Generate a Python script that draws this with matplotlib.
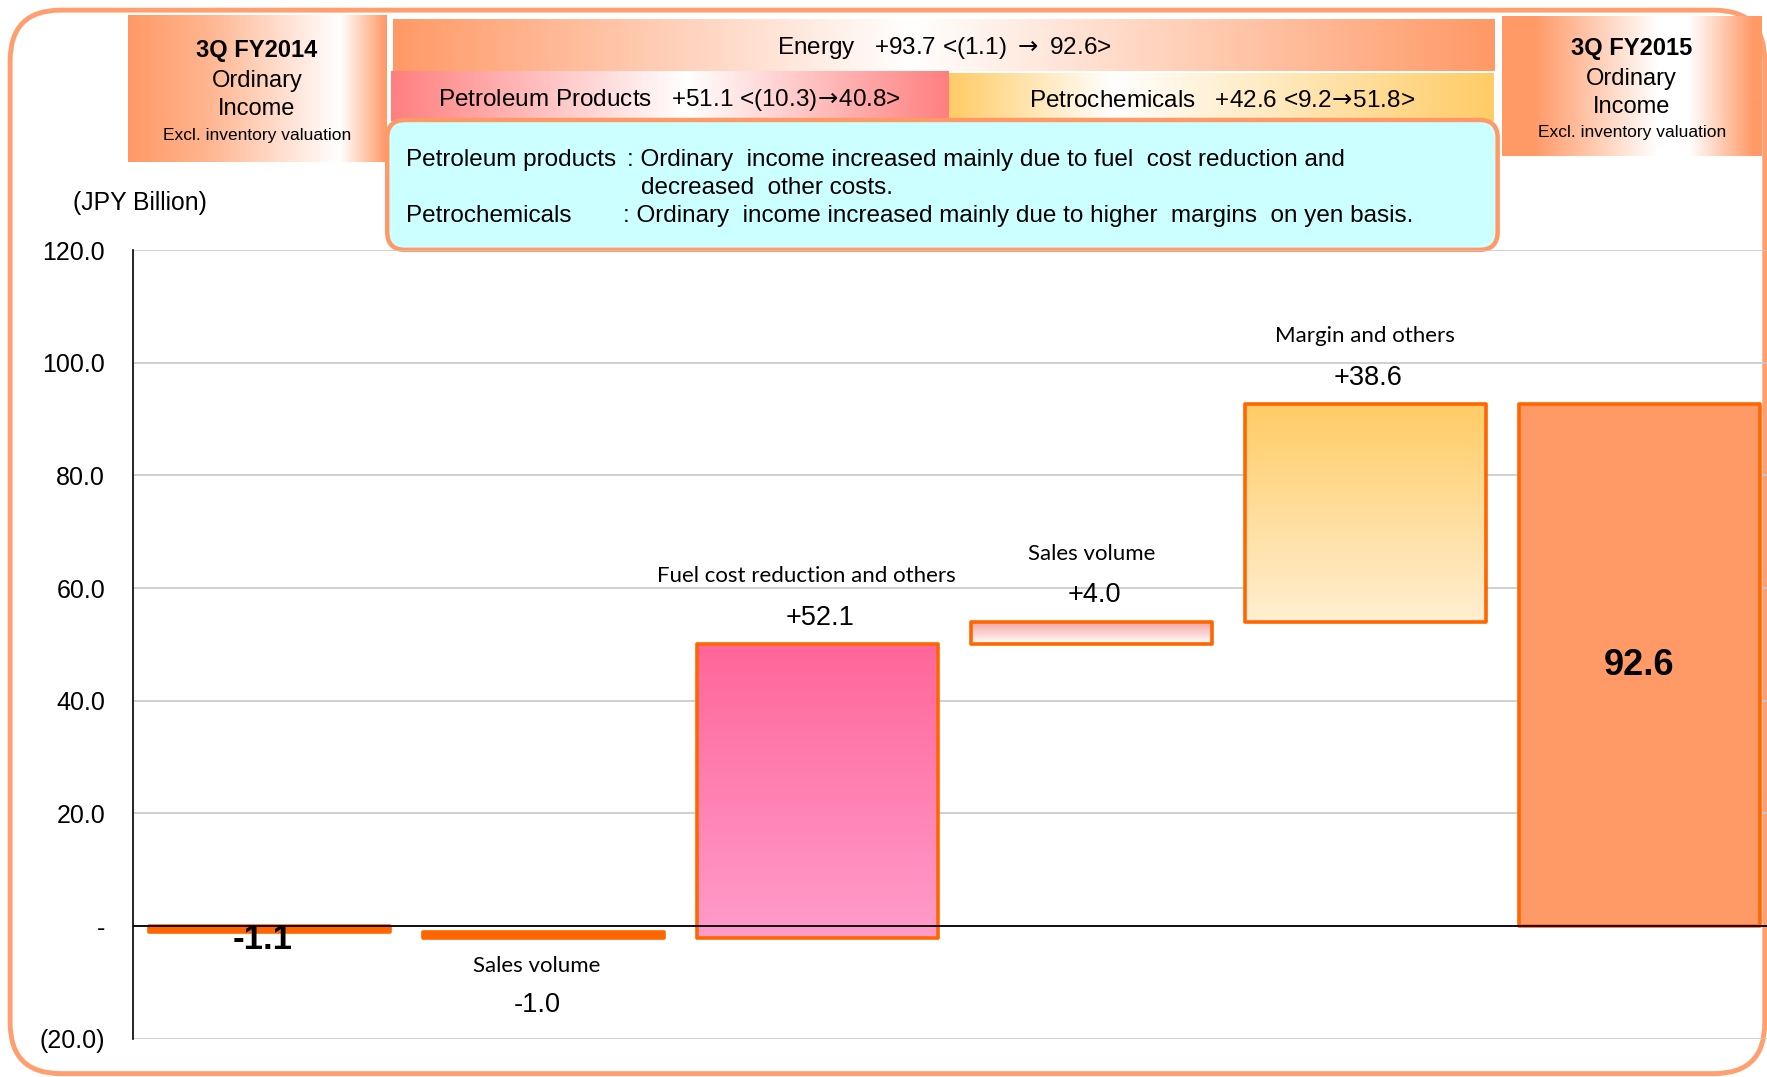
import numpy as np
import matplotlib
matplotlib.use("Agg")
import matplotlib.pyplot as plt
from matplotlib.patches import FancyBboxPatch, Rectangle
from matplotlib.colors import to_rgb

plt.rcParams['font.family'] = ['Liberation Sans', 'DejaVu Sans']

# ---------------- data ----------------
categories = ["3Q FY2014", "Sales volume", "Fuel cost reduction and others",
              "Sales volume", "Margin and others", "3Q FY2015"]
values = [-1.1, -1.0, 52.1, 4.0, 38.6, 92.6]
kinds = ["total", "delta", "delta", "delta", "delta", "total"]
yticks = [-20, 0, 20, 40, 60, 80, 100, 120]
ytick_labels = ["(20.0)", "-", "20.0", "40.0", "60.0", "80.0", "100.0", "120.0"]

header_left = ["3Q FY2014", "Ordinary", "Income", "Excl. inventory valuation"]
header_right = ["3Q FY2015", "Ordinary", "Income", "Excl. inventory valuation"]
energy_text = r"Energy   +93.7 <(1.1) $\rightarrow$ 92.6>"
petro_text = r"Petroleum Products   +51.1 <(10.3)$\!\rightarrow\!$40.8>"
chem_text = r"Petrochemicals   +42.6 <9.2$\!\rightarrow\!$51.8>"
note_heads = ["Petroleum products", "", "Petrochemicals"]
note_bodies = [": Ordinary  income increased mainly due to fuel  cost reduction and",
               "decreased  other costs.",
               ": Ordinary  income increased mainly due to higher  margins  on yen basis."]
unit_label = "(JPY Billion)"

# ---------------- styles ----------------
ORANGE = "#FF6600"
bar_fills = [("solid", "#FF6600", None),
             ("solid", "#FF6600", None),
             ("grad", "#FF6699", "#FF9CCB"),
             ("grad", "#F4A09E", "#FFFFFF"),
             ("grad", "#FFCC66", "#FFEFD2"),
             ("solid", "#FF9966", None)]

fig = plt.figure(figsize=(17.67, 10.77), dpi=100)

# background / overlay axes in reference pixel units (1568 x 956)
bg = fig.add_axes([0, 0, 1, 1], zorder=0)
bg.set_xlim(0, 1568)
bg.set_ylim(956, 0)
bg.axis('off')


def hgrad(x0, x1, y0, y1, stops, cols):
    n = 256
    t = np.linspace(0, 1, n)
    rgb = np.array([to_rgb(c) for c in cols])
    arr = np.stack([np.interp(t, stops, rgb[:, k]) for k in range(3)], axis=-1)
    bg.imshow(arr[np.newaxis, :, :], extent=(x0, x1, y1, y0), aspect='auto',
              interpolation='bilinear', zorder=1)


OR = "#FF9966"
W = "#FFFFFF"
# outer rounded frame
bg.add_patch(FancyBboxPatch((9, 9), 1557, 944, boxstyle="round,pad=0,rounding_size=45",
                            ec="#FF9E6E", fc="none", lw=3.5, zorder=0.5))
# header boxes
hgrad(113.5, 343, 13.3, 143.5, [0, 0.3, 0.82, 1.0], [OR, "#FFB48E", W, OR])
hgrad(1332.5, 1563, 14.8, 138.4, [0, 0.12, 0.6, 0.72, 0.97, 1.0], [OR, OR, W, W, OR, OR])
hgrad(348.6, 1326, 16.9, 62.7, [0, 0.47, 1.0], [OR, W, OR])
hgrad(346.7, 841, 63, 107, [0, 0.53, 1.0], ["#FF7F7F", W, "#FF7F7F"])
hgrad(842.5, 1326, 64.5, 107, [0, 0.3, 1.0], ["#FFCC66", W, "#FFCC66"])

# note box
bg.add_patch(FancyBboxPatch((343.6, 106.5), 985.4, 115.3,
                            boxstyle="round,pad=0,rounding_size=16",
                            ec="#FF9966", fc="#CCFFFF", lw=3.2, zorder=2))

for i, (t, y) in enumerate(zip(header_left, [45, 72, 97, 120])):
    bg.text(228, y, t, ha='center', va='center', zorder=3,
            fontsize=17 if i < 3 else 12.5, fontweight='bold' if i == 0 else 'normal')
for i, (t, y) in enumerate(zip(header_right, [43, 70, 95, 118])):
    bg.text(1448, y, t, ha='center', va='center', zorder=3,
            fontsize=17 if i < 3 else 12.5, fontweight='bold' if i == 0 else 'normal')

bg.text(838, 43, energy_text, ha='center', va='center', fontsize=17.5, zorder=3)
bg.text(594, 89, petro_text, ha='center', va='center', fontsize=17.5, zorder=3)
bg.text(1084, 90, chem_text, ha='center', va='center', fontsize=17.5, zorder=3)

note_y = [142, 167, 192]
note_x = [556, 569, 553]
for h, b, y, x in zip(note_heads, note_bodies, note_y, note_x):
    if h:
        bg.text(360, y, h, ha='left', va='center', fontsize=17.5, zorder=3)
    bg.text(x, y, b, ha='left', va='center', fontsize=17.5, zorder=3)

bg.text(124, 180, unit_label, ha='center', va='center', fontsize=17.8)

# ---------------- main chart ----------------
ax = fig.add_axes([118 / 1568, 1 - 922 / 956, (1576 - 118) / 1568, 700 / 956], zorder=1)
ax.patch.set_alpha(0)

width = 0.88
running = 0.0
bars = []
for i, (v, k) in enumerate(zip(values, kinds)):
    if k == "total":
        lo, hi = min(0, v), max(0, v)
        running = v
    else:
        start = running
        running = running + v
        lo, hi = min(start, running), max(start, running)
    bars.append((lo, hi))

for i, ((lo, hi), (mode, c1, c2)) in enumerate(zip(bars, bar_fills)):
    x0 = i - width / 2
    if mode == "grad":
        n = 256
        t = np.linspace(0, 1, n)
        a = np.array(to_rgb(c2))
        b = np.array(to_rgb(c1))
        arr = a[None, :] * (1 - t[:, None]) + b[None, :] * t[:, None]
        ax.imshow(arr[:, None, :], extent=(x0, x0 + width, lo, hi), origin='lower',
                  aspect='auto', interpolation='bilinear', zorder=2)
        ax.add_patch(Rectangle((x0, lo), width, hi - lo, fill=False, ec=ORANGE,
                               lw=2.6, zorder=3, joinstyle='round'))
    else:
        ax.add_patch(Rectangle((x0, lo), width, hi - lo, fc=c1, ec=ORANGE,
                               lw=2.6, zorder=3, joinstyle='round'))

ax.axhline(0, color='black', lw=1.3, zorder=4)

cat_font = ['Lato', 'DejaVu Sans']
for i, ((lo, hi), v, k, name) in enumerate(zip(bars, values, kinds, categories)):
    if k == "total":
        txt = f"{v:.1f}"
        if v < 0:
            ax.annotate(txt, xy=(i, lo), xytext=(-5, -5), textcoords='offset points',
                        ha='center', va='center', fontsize=25, fontweight='bold', zorder=5)
        else:
            ax.annotate(txt, xy=(i, (lo + hi) / 2), ha='center', va='center',
                        fontsize=26, fontweight='bold', zorder=5)
        continue
    txt = f"{v:+.1f}"
    xoff = -8 if i == 2 else 0
    if v >= 0:
        ax.annotate(txt, xy=(i, hi), xytext=(2, 19), textcoords='offset points',
                    ha='center', va='center', fontsize=19.5)
        ax.annotate(name, xy=(i, hi), xytext=(xoff, 49), textcoords='offset points',
                    ha='center', va='center', fontsize=16, family=cat_font)
    else:
        ax.annotate(name, xy=(i, lo), xytext=(-5, -20.5), textcoords='offset points',
                    ha='center', va='center', fontsize=16, family=cat_font)
        ax.annotate(txt, xy=(i, lo), xytext=(-5, -48), textcoords='offset points',
                    ha='center', va='center', fontsize=19.5)

ax.set_xlim(-0.5, len(values) - 0.5)
ax.set_ylim(-20, 120)
ax.set_yticks(yticks)
ax.set_yticklabels(ytick_labels, fontsize=18)
ax.tick_params(axis='y', length=0, pad=20)
ax.set_xticks([])
ax.grid(axis='y', color='#C8C8C8', lw=1.2, zorder=0)
ax.set_axisbelow(True)
for s in ['top', 'right', 'bottom']:
    ax.spines[s].set_visible(False)
ax.spines['left'].set_color('black')
ax.spines['left'].set_linewidth(1.2)

fig.savefig("out.png", dpi=100)
